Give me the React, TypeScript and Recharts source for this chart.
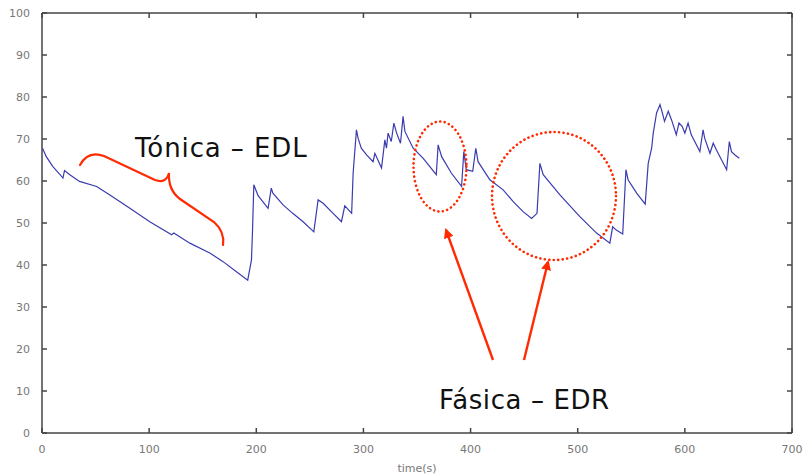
import { LineChart, Line, XAxis, YAxis } from "recharts";

// time (s) and EDA values
const times = [
  0.5, 4, 10, 19.6, 21, 26, 35, 51, 63, 82, 100.6, 121, 123, 138, 157, 169, 181.5, 192,
  195.5, 196.5, 197.7, 201.7, 211, 214, 215.5, 225, 234, 243.7, 253.7, 257.7, 262.4,
  271.7, 279.5, 282.6, 284.8, 289, 290.4, 293.5, 295, 298, 302.9, 309, 310.7, 316.9,
  320, 321.5, 323, 326, 328.4, 331, 334.6, 337, 338.7, 346.4, 355.8, 368, 369.7, 373,
  382, 391.6, 393.7, 396, 402, 404.9, 407, 418, 430.4, 439.8, 449, 457, 462, 464.7,
  467.8, 483.4, 502, 517.6, 530, 532.6, 536, 542, 545, 547, 555, 563, 565.8, 569,
  570.5, 573.6, 576.8, 579, 581, 584.5, 587.5, 592, 594.5, 597.5, 600, 603, 606, 614,
  617, 618.5, 623.4, 626.5, 629.5, 639, 641.5, 643.5, 646.8, 650.8,
];
const values = [
  67.8, 65.8, 63.5, 60.7, 62.5, 61.5, 59.9, 58.7, 56.7, 53.5, 50.3, 47.2, 47.6, 45.2, 42.8, 40.8, 38.4, 36.4,
  41.2, 48.3, 59.1, 56.5, 53.5, 58.3, 57.1, 54.3, 52.3, 50.3, 47.9, 55.5, 54.7,
  52.3, 50.3, 54.1, 53.5, 52.3, 61.9, 72.2, 70.2, 67.8, 66.2, 64.6, 66.6, 63.1,
  69.8, 67.8, 71.4, 69.4, 73.8, 71.4, 69.0, 75.4, 71.8, 67.8, 65.4, 61.5, 68.6, 65.8,
  61.9, 58.7, 67.0, 62.7, 62.3, 67.8, 64.6, 60.3, 57.9, 55.1, 52.7, 51.1, 52.3, 64.2,
  61.5, 56.7, 51.5, 47.6, 45.2, 49.1, 48.3, 47.4, 62.7, 60.3, 57.1, 54.5, 64.2, 67.8,
  71.4, 76.2, 78.2, 76.2, 74.2, 76.6, 74.6, 71.0, 73.8, 73.0, 71.4, 73.8, 71.0, 67.0,
  72.2, 70.2, 66.6, 69.0, 67.4, 62.7, 69.4, 67.0, 66.2, 65.4,
];
const xTicks = [0, 100, 200, 300, 400, 500, 600, 700];
const yTicks = [0, 10, 20, 30, 40, 50, 60, 70, 80, 90, 100];

const data = times.map((t, i) => ({ t, v: values[i] }));

const W = 804;
const H = 476;
const M = { top: 13, right: 12 };
const Y_AXIS_W = 42;
const X_AXIS_H = 43;
const X_MAX = 700;
const Y_MAX = 100;

const axisColor = "#444";
const labelColor = "#777";
const red = "#ff2a00";
const tickFont = { fontSize: 11, fill: labelColor, fontFamily: "DejaVu Sans" };

// plot box, same as what recharts lays out from the margins above
const left = Y_AXIS_W;
const right = W - M.right;
const top = M.top;
const bottom = H - X_AXIS_H;
const sx = (t: number) => left + (t / X_MAX) * (right - left);
const sy = (v: number) => bottom - (v / Y_MAX) * (bottom - top);

// matlab-style box with inward ticks on all four sides
function Frame() {
  const k = 5;
  return (
    <g stroke={axisColor} strokeWidth={1.5} fill="none">
      <line x1={left} x2={right} y1={top} y2={top} />
      <line x1={right} x2={right} y1={top} y2={bottom} />
      <line x1={left} x2={right} y1={bottom} y2={bottom} />
      <line x1={left} x2={left} y1={top} y2={bottom} />
      {xTicks.map((t) => (
        <g key={`x${t}`}>
          <line x1={sx(t)} x2={sx(t)} y1={bottom} y2={bottom - k} />
          <line x1={sx(t)} x2={sx(t)} y1={top} y2={top + k} />
        </g>
      ))}
      {yTicks.map((v) => (
        <g key={`y${v}`}>
          <line x1={left} x2={left + k} y1={sy(v)} y2={sy(v)} />
          <line x1={right} x2={right - k} y1={sy(v)} y2={sy(v)} />
        </g>
      ))}
    </g>
  );
}

function Annotations() {
  return (
    <svg width={W} height={H} style={{ position: "absolute", left: 0, top: 0, pointerEvents: "none" }}>
      <defs>
        <marker id="head" markerWidth="10" markerHeight="10" refX="8" refY="5" orient="auto" markerUnits="userSpaceOnUse">
          <path d="M0,0 L10,5 L0,10 Z" fill={red} />
        </marker>
      </defs>
      <Frame />
      <path
        d="M80,165 Q88,150 104,156 L155,180 Q166,184 169,173 Q168,190 180,199 L214,222 Q225,232 223,245"
        fill="none"
        stroke={red}
        strokeWidth={2.2}
        strokeLinecap="round"
      />
      <ellipse cx={440} cy={166.5} rx={26.5} ry={45} fill="none" stroke={red} strokeWidth={2.6} strokeDasharray="0.1 4.4" strokeLinecap="round" />
      <ellipse cx={554} cy={196} rx={62} ry={64} fill="none" stroke={red} strokeWidth={2.6} strokeDasharray="0.1 4.4" strokeLinecap="round" />
      <line x1={493} y1={360} x2={446} y2={230} stroke={red} strokeWidth={2.4} markerEnd="url(#head)" />
      <line x1={524} y1={360} x2={548} y2={262} stroke={red} strokeWidth={2.4} markerEnd="url(#head)" />
      <text x={135} y={157} fontSize={26} fontFamily="DejaVu Sans" fill="#111" letterSpacing={0.9}>
        Tónica – EDL
      </text>
      <text x={439} y={409} fontSize={26} fontFamily="DejaVu Sans" fill="#111" letterSpacing={0.6}>
        Fásica – EDR
      </text>
    </svg>
  );
}

export default function App() {
  return (
    <div style={{ position: "absolute", left: 0, top: 0, width: W, height: H, background: "#fff" }}>
      <LineChart width={W} height={H} data={data} margin={{ top: M.top, right: M.right, left: 0, bottom: 0 }}>
        <XAxis
          dataKey="t"
          type="number"
          domain={[0, X_MAX]}
          ticks={xTicks}
          height={X_AXIS_H}
          tickLine={false}
          axisLine={false}
          tickMargin={6}
          tick={tickFont}
          label={{ value: "time(s)", position: "insideBottom", offset: 4, fontSize: 11, fill: labelColor, fontFamily: "DejaVu Sans" }}
        />
        <YAxis
          type="number"
          domain={[0, Y_MAX]}
          ticks={yTicks}
          width={Y_AXIS_W}
          tickLine={false}
          axisLine={false}
          tickMargin={6}
          tick={tickFont}
          interval={0}
        />
        <Line
          dataKey="v"
          type="linear"
          stroke="#3b3bb0"
          strokeWidth={1.2}
          dot={false}
          isAnimationActive={false}
        />
      </LineChart>
      <Annotations />
    </div>
  );
}
